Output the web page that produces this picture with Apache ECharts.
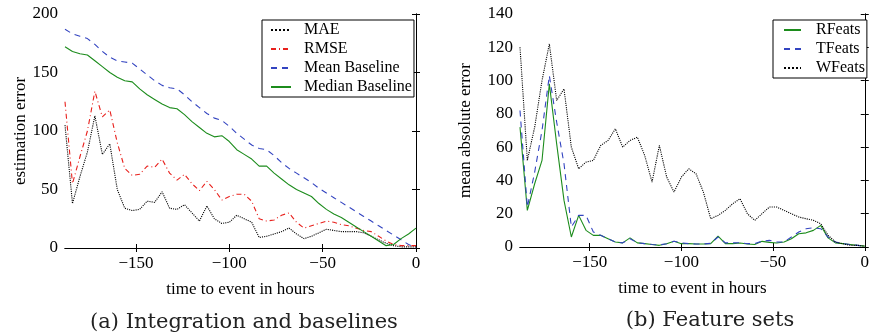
<!DOCTYPE html>
<html>
<head>
<meta charset="utf-8">
<script src="https://cdn.jsdelivr.net/npm/echarts@6/dist/echarts.min.js"></script>
<style>
html,body{margin:0;padding:0;background:#fff;}
#chart{width:872px;height:335px;}
</style>
</head>
<body>
<div id="chart"></div>
<script>
// time to event in hours
const hours = [-188,-184,-180,-176,-172,-168,-164,-160,-156,-152,-148,-144,-140,-136,-132,-128,-124,-120,-116,-112,-108,-104,-100,-96,-92,-88,-84,-80,-76,-72,-68,-64,-60,-56,-52,-48,-44,-40,-36,-32,-28,-24,-20,-16,-12,-8,-4,0];

// (a) Integration and baselines
const maeVals = [105,38,61,82,113,80,89,50,34,32,33,40,39,48,34,33,37,30,23,36,25,21,22,28,25,22,9,10,12,14,17,12,8,10,13,16,15,14,14,14,13,10,7,4,2,1,1,1];
const rmseVals = [125,55,78,100,134,112,118,90,68,62,63,70,69,76,64,58,63,55,49,57,50,41,44,46,46,40,25,23,24,28,30,22,17,19,21,23,22,20,19,17,15,14,10,6,3,2,2,2];
const meanBaseVals = [187,183,181,179,174,168,163,160,159,158,153,148,143,139,137,136,131,125,120,115,111,109,104,98,93,88,85,84,79,73,68,64,60,56,51,47,43,39,35,31,27,23,19,15,11,7,3,0];
const medianBaseVals = [172,168,166,165,160,155,150,146,143,142,136,131,127,123,120,119,114,108,103,98,95,96,91,84,80,76,70,70,64,59,54,50,47,44,38,33,29,26,22,18,14,10,6,2,3,8,12,17];

// (b) Feature sets
const rFeatsVals = [72,22,38,52,98,62,28,6,19,10,7,7,5,3,2.5,5.5,2.5,2,1.5,1,2,3.5,2,2,1.8,1.8,2,6.5,2,2,2.4,1.8,1.5,3.4,2.8,2.4,3,5,8,8.5,10,13,5.5,2.5,2,1.5,1,0.5];
const tFeatsVals = [82,24,45,70,103,75,50,12,19,19,9,7,5,3,2.5,5,2.5,2,1.5,1.2,2,3.5,2.5,2,1.8,1.8,2.2,6,2.5,2.5,2.6,2,2,3.5,4,3,3,6,9,11,11.5,11,6,3,2,1.5,1,0.5];
const wFeatsVals = [120,52,72,100,122,88,95,60,47,51,52,61,64,71,60,64,66,55,39,61,42,33,42,47,44,33,17,19,22,26,29,20,16,20,24,24,22,20,18,17,16,14,7,3,2,1,1,0.5];

// tick labels
const xTicks = [-150,-100,-50,0];
const yTicksA = [0,50,100,150,200];
const yTicksB = [0,20,40,60,80,100,120,140];

const seriesNamesA = ['MAE','RMSE','Mean Baseline','Median Baseline'];
const seriesNamesB = ['RFeats','TFeats','WFeats'];

const FONT = '"Liberation Serif", "Times New Roman", serif';
const pair = vals => hours.map((h,i)=>[h, vals[i]]);
const minus = v => String(v).replace('-', '\u2212');

function xAxes(gridIndex){
  const base = {
    type:'value', gridIndex, min:-188, max:0,
    splitLine:{show:false},
    axisLine:{show:true, lineStyle:{color:'#000', width:1}},
    axisTick:{show:true, inside:true, length:4, customValues:xTicks, lineStyle:{color:'#000'}},
  };
  return [
    Object.assign({}, base, {
      position:'bottom',
      axisLabel:{show:true, customValues:xTicks, formatter:minus, color:'#000', fontFamily:FONT, fontSize:17, margin:7},
      name:'time to event in hours', nameLocation:'middle', nameGap:33,
      nameTextStyle:{color:'#000', fontFamily:FONT, fontSize:17}
    }),
    Object.assign({}, base, {position:'top', axisLabel:{show:false}})
  ];
}
function yAxes(gridIndex, ticks, name, gap){
  const base = {
    type:'value', gridIndex, min:ticks[0], max:ticks[ticks.length-1], interval:ticks[1]-ticks[0],
    splitLine:{show:false},
    axisLine:{show:true, lineStyle:{color:'#000', width:1}},
    axisTick:{show:true, inside:true, length:4, lineStyle:{color:'#000'}},
  };
  return [
    Object.assign({}, base, {
      position:'left',
      axisLabel:{show:true, color:'#000', fontFamily:FONT, fontSize:17, margin:7},
      name, nameLocation:'middle', nameGap:gap,
      nameTextStyle:{color:'#000', fontFamily:FONT, fontSize:17}
    }),
    Object.assign({}, base, {position:'right', axisLabel:{show:false}})
  ];
}

const chart = echarts.init(document.getElementById('chart'), null, {renderer:'canvas'});

const lineSeries = (name, vals, xi, yi, color, type) => ({
  name, type:'line', xAxisIndex:xi, yAxisIndex:yi, data:pair(vals),
  symbol:'none', smooth:false, animation:false,
  lineStyle:{color, width:1.1, type},
  itemStyle:{color}
});

const legendBase = {
  orient:'vertical', itemHeight:12, borderColor:'#000', borderWidth:1, borderRadius:0,
  backgroundColor:'#fff', itemStyle:{opacity:0, borderWidth:0}
};

const option = {
  animation:false,
  backgroundColor:'#fff',
  title:[
    {text:'(a) Integration and baselines', left:239, top:307, textAlign:'center',
     textStyle:{fontFamily:'"DejaVu Serif", serif', fontWeight:'normal', fontSize:21, color:'#222'}},
    {text:'(b) Feature sets', left:705, top:305, textAlign:'center',
     textStyle:{fontFamily:'"DejaVu Serif", serif', fontWeight:'normal', fontSize:21, color:'#222'}}
  ],
  grid:[
    {left:65, right:456, top:14, bottom:87, containLabel:false},
    {left:520, right:4, top:14, bottom:88, containLabel:false}
  ],
  xAxis: xAxes(0).concat(xAxes(1)),
  yAxis: yAxes(0, yTicksA, 'estimation error', 35).concat(yAxes(1, yTicksB, 'mean absolute error', 46)),
  legend:[
    Object.assign({}, legendBase, {data:seriesNamesA, left:262, top:20, itemWidth:20, itemGap:3,
     padding:[2,2,2,8], textStyle:{fontFamily:FONT, fontSize:16, color:'#000', padding:[0,0,0,8]}}),
    Object.assign({}, legendBase, {data:seriesNamesB, left:773, top:20, itemWidth:17, itemGap:3,
     padding:[2,2,2,10], textStyle:{fontFamily:FONT, fontSize:16, color:'#000', padding:[0,0,0,10]}})
  ],
  series:[
    lineSeries(seriesNamesA[0], maeVals, 0, 0, '#000000', 'dotted'),
    lineSeries(seriesNamesA[1], rmseVals, 0, 0, '#e8201c', [5,3,1,3]),
    lineSeries(seriesNamesA[2], meanBaseVals, 0, 0, '#3344c0', [6,5]),
    lineSeries(seriesNamesA[3], medianBaseVals, 0, 0, '#1c8c1c', 'solid'),
    lineSeries(seriesNamesB[0], rFeatsVals, 2, 2, '#1c8c1c', 'solid'),
    lineSeries(seriesNamesB[1], tFeatsVals, 2, 2, '#3344c0', [6,5]),
    lineSeries(seriesNamesB[2], wFeatsVals, 2, 2, '#000000', 'dotted')
  ]
};
chart.setOption(option);
</script>
</body>
</html>
